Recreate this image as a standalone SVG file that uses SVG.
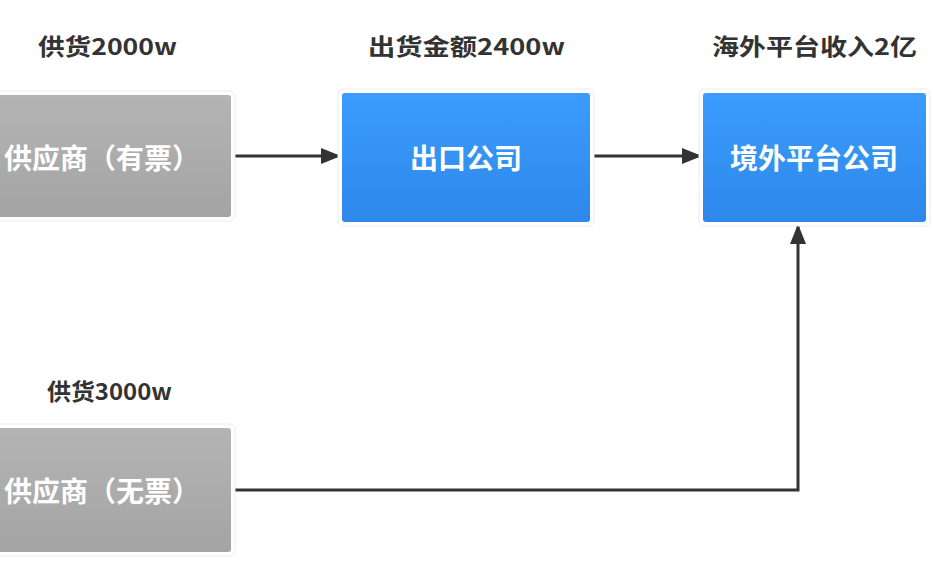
<svg xmlns="http://www.w3.org/2000/svg" width="933" height="568" viewBox="0 0 933 568">
<defs>
<linearGradient id="gGray" x1="0" y1="0" x2="0" y2="1">
<stop offset="0" stop-color="#b4b4b4"/>
<stop offset="1" stop-color="#a4a4a4"/>
</linearGradient>
<linearGradient id="gBlue" x1="0" y1="0" x2="0" y2="1">
<stop offset="0" stop-color="#3b9cfc"/>
<stop offset="1" stop-color="#2d88ea"/>
</linearGradient>
<marker id="arr" viewBox="0 0 20 16" refX="20" refY="8" markerWidth="20" markerHeight="16" markerUnits="userSpaceOnUse" orient="auto">
<path d="M0,0 L20,8 L0,16 Z" fill="#333"/>
</marker>
<style>
.halo{fill:#fff;stroke:#ececec;stroke-width:1}
.box-t{font-family:"Noto Sans CJK SC","Noto Sans",sans-serif;font-weight:bold;font-size:28px;fill:#fff;text-anchor:middle;dominant-baseline:central}
.lbl{font-family:"Noto Sans CJK SC","Noto Sans",sans-serif;font-weight:bold;font-size:23px;fill:#333;dominant-baseline:central}
.conn{fill:none;stroke:#333;stroke-width:3}
</style>
</defs>
<rect width="933" height="568" fill="#fff"/>
<g id="labels">
<text class="lbl" x="38" y="45" textLength="139" lengthAdjust="spacingAndGlyphs">供货2000w</text>
<text class="lbl" x="368" y="45" textLength="197" lengthAdjust="spacingAndGlyphs">出货金额2400w</text>
<text class="lbl" x="712" y="45" textLength="205" lengthAdjust="spacingAndGlyphs">海外平台收入2亿</text>
<text class="lbl" x="47" y="390" textLength="125" lengthAdjust="spacingAndGlyphs">供货3000w</text>
</g>
<g id="connectors">
<path class="conn" d="M234,156 L341,156" marker-end="url(#arr)"/>
<path class="conn" d="M594,156 L702,156" marker-end="url(#arr)"/>
<path class="conn" d="M234,490 L798,490 L798,224" marker-end="url(#arr)"/>
</g>
<g id="supplier-invoiced">
<rect class="halo" x="-30" y="91" width="265" height="130" rx="5"/>
<rect x="-26" y="95" width="257" height="122" rx="3" fill="url(#gGray)"/>
<text class="box-t" x="102" y="157">供应商（有票）</text>
</g>
<g id="export-company">
<rect class="halo" x="338" y="89" width="256" height="137" rx="5"/>
<rect x="342" y="93" width="248" height="129" rx="3" fill="url(#gBlue)"/>
<text class="box-t" x="466" y="157">出口公司</text>
</g>
<g id="overseas-platform">
<rect class="halo" x="699" y="89" width="231" height="137" rx="5"/>
<rect x="703" y="93" width="223" height="129" rx="3" fill="url(#gBlue)"/>
<text class="box-t" x="814" y="157">境外平台公司</text>
</g>
<g id="supplier-uninvoiced">
<rect class="halo" x="-30" y="424" width="265" height="132" rx="5"/>
<rect x="-26" y="428" width="257" height="124" rx="3" fill="url(#gGray)"/>
<text class="box-t" x="102" y="490">供应商（无票）</text>
</g>
</svg>
